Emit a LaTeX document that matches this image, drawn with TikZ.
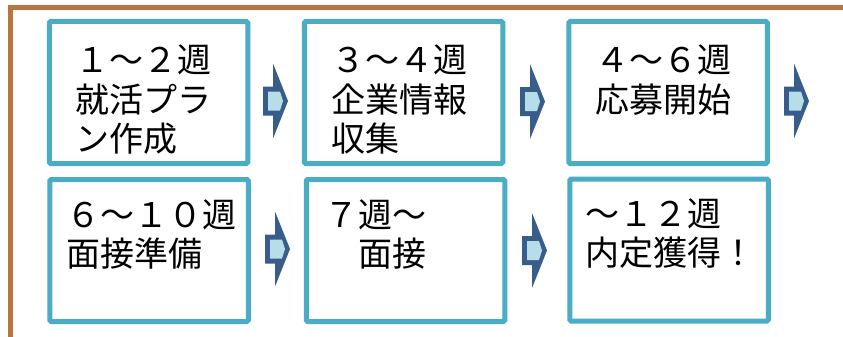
\documentclass[tikz,border=0pt]{standalone}
\usepackage{fontspec}
\newfontfamily\jpfont{Noto Sans CJK JP}
\definecolor{framebrown}{HTML}{B8763E}
\definecolor{boxaqua}{HTML}{4BACC6}
\definecolor{arrowdark}{HTML}{385D8A}
\definecolor{arrowlight}{HTML}{B7DEE8}
\tikzset{
  stepbox/.style={draw=boxaqua, line width=5pt, fill=white, rounded corners=1.5pt,
    minimum width=198.5pt, minimum height=142pt, inner sep=0pt, outer sep=0pt},
  steptext/.style={anchor=base west, inner sep=0pt, outer sep=0pt, text=black},
  chevarrow/.pic={
    \fill[arrowdark] (0,-14.5) -- (10,-14.5) -- (10,-37.5) -- (25,0) -- (10,37.5) -- (10,14.5) -- (0,14.5) -- cycle;
    \fill[arrowlight] (5,-9.5) -- (17,-9.5) -- (20,0) -- (17,9.5) -- (5,9.5) -- cycle;
  }
}
\newcommand{\steplines}[1]{\parbox[t]{220pt}{\jpfont\fontsize{34}{39.5}\selectfont #1}}
\begin{document}
\begin{tikzpicture}[x=1pt,y=-1pt]
\useasboundingbox (0,0) rectangle (843,337);
\fill[white] (0,0) rectangle (843,337);
% brown frame
\draw[framebrown, line width=5pt] (10,345) -- (10,7.5) -- (850,7.5);
% boxes
\node[stepbox] (b1) at (148.5,92.5) {};
\node[stepbox] (b2) at (403.5,92.5) {};
\node[stepbox] (b3) at (668,92.5) {};
\node[stepbox] (b4) at (149,250.5) {};
\node[stepbox] (b5) at (405.5,250.5) {};
\node[stepbox] (b6) at (669,250) {};
% texts
\node[steptext] (t1) at (75,73) {\steplines{１～２週\\就活プラ\\ン作成}};
\node[steptext] (t2) at (331,73) {\steplines{３～４週\\企業情報\\収集}};
\node[steptext] (t3) at (595,73) {\steplines{４～６週\\応募開始}};
\node[steptext] (t4) at (66,227) {\steplines{６～１０週\\面接準備}};
\node[steptext] (t5) at (324,227) {\steplines{７週～\\　面接}};
\node[steptext] (t6) at (585,226) {\steplines{～１２週\\内定獲得！}};
% arrows
\pic at (263,101) {chevarrow};
\pic at (520,101.5) {chevarrow};
\pic at (784,101) {chevarrow};
\pic at (265,249) {chevarrow};
\pic at (522,250.5) {chevarrow};
\end{tikzpicture}
\end{document}
